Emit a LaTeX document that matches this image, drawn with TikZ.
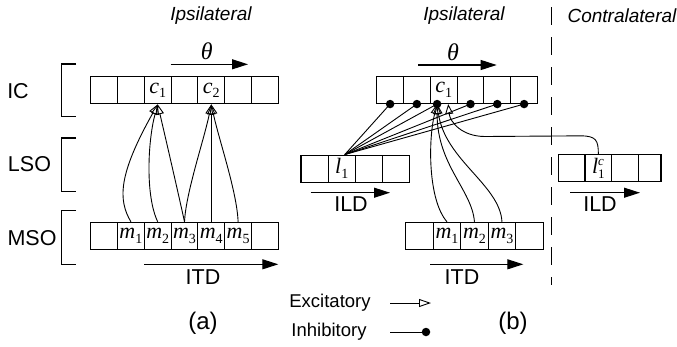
\documentclass[tikz,border=0pt]{standalone}
\usepackage{fontspec}
\setmainfont{Liberation Sans}
\newfontfamily\tnr{Liberation Serif}
\usetikzlibrary{arrows.meta,calc}
\newcommand\mv[2]{{\tnr\fontsize{22}{22}\selectfont\itshape #1}\raisebox{-4.5pt}{\tnr\fontsize{14}{14}\selectfont #2}}
\newcommand\mvc[3]{{\tnr\fontsize{22}{22}\selectfont\itshape #1}\rlap{\raisebox{8.5pt}{\tnr\fontsize{13}{13}\selectfont\itshape #2}}\raisebox{-5pt}{\tnr\fontsize{13}{13}\selectfont #3}}
\begin{document}
\begin{tikzpicture}[x=1pt,y=-1pt,
  cell/.style={draw,line width=1.1pt,minimum width=26.8pt,minimum height=27pt,inner sep=0pt},
  lab/.style={font=\fontsize{21.5}{24}\selectfont},
  side/.style={font=\fontsize{19}{22}\selectfont\itshape},
  leg/.style={font=\fontsize{18.5}{22}\selectfont},
  pan/.style={font=\fontsize{24}{28}\selectfont},
  ttl/.style={font=\tnr\fontsize{24}{24}\selectfont\itshape},
  axis/.style={line width=1.1pt,-{Triangle[length=16pt,width=10pt]}},
  exc/.style={line width=0.9pt,-{Triangle[open,length=10pt,width=8pt]}},
  inh/.style={line width=0.9pt},
  dot/.style={circle,fill,inner sep=0pt,minimum size=8.5pt},
  brk/.style={line width=1.1pt},
]
\useasboundingbox (0,0) rectangle (677,346);

% ---------- side titles ----------
\node[side] (ipa) at (211,16) {Ipsilateral};
\node[side] (ipb) at (464,16) {Ipsilateral};
\node[side] (con) at (622,16) {Contralateral};
\draw[line width=1.1pt,dash pattern=on 18pt off 12pt] (551.7,7) -- (551.7,285);

% ---------- row labels and brackets ----------
\node[lab] (lic) at (18,91) {IC};
\node[lab] (llso) at (29.5,164) {LSO};
\node[lab] (lmso) at (32,238) {MSO};
\draw[brk] (76,64) -- (61.7,64) -- (61.7,116.7) -- (76,116.7);
\draw[brk] (76,138) -- (61.7,138) -- (61.7,191.7) -- (76,191.7);
\draw[brk] (76,210.7) -- (61.7,210.7) -- (61.7,264.3) -- (76,264.3);

% ---------- panel (a) ----------
\foreach \i/\t in {1/{},2/{},3/{\mv{c}{1}},4/{},5/{\mv{c}{2}},6/{},7/{}}
  \node[cell] (ac\i) at ({90.7+26.8*(\i-0.5)},90.35) {\t};
\foreach \i/\t in {1/{},2/{\mv{m}{1}},3/{\mv{m}{2}},4/{\mv{m}{3}},5/{\mv{m}{4}},6/{\mv{m}{5}},7/{}}
  \node[cell] (am\i) at ({90.7+26.8*(\i-0.5)},235.8) {\t};

\coordinate (tha0) at (170.7,64.3);
\coordinate (tha1) at (248,64.3);
\draw[axis] (tha0) -- (tha1);
\node[ttl] (tha) at (206.7,51) {θ};

\coordinate (itda0) at (144,264.3);
\coordinate (itda1) at (278.3,264.3);
\draw[axis] (itda0) -- (itda1);
\node[lab] (itda) at (203,277) {ITD};

\draw[exc] (am2.north) .. controls (118,200) and (118,175) .. (ac3.south);
\draw[exc] (am3.north) .. controls (145,195) and (148,140) .. (ac3.south);
\draw[exc] (am4.north) .. controls (178,192) and (166,140) .. (ac3.south);
\draw[exc] (am4.north) .. controls (186,192) and (204,140) .. (ac5.south);
\draw[exc] (am5.north) -- (ac5.south);
\draw[exc] (am6.north) .. controls (237,192) and (219,140) .. (ac5.south);

\node[pan] (pa) at (203,323) {(a)};

% ---------- panel (b) ----------
\foreach \i/\t in {1/{},2/{},3/{\mv{c}{1}},4/{},5/{},6/{}}
  \node[cell] (bc\i) at ({376.7+26.8*(\i-0.5)},90) {\t};
\foreach \i/\t in {1/{},2/{\mv{l}{1}},3/{},4/{}}
  \node[cell,minimum width=27.2pt] (bl\i) at ({301+27.2*(\i-0.5)},168.6) {\t};
\foreach \i/\t in {1/{},2/{\mv{m}{1}},3/{\mv{m}{2}},4/{\mv{m}{3}},5/{}}
  \node[cell,minimum width=27.5pt] (bm\i) at ({405.7+27.5*(\i-0.5)},235.8) {\t};
\foreach \i/\x/\w/\t in {1/571.65/26.7/{},2/598.35/26.7/{\mvc{l}{c}{1}},3/625.05/26.7/{},4/649.65/22.7/{}}
  \node[cell,minimum width=\w pt] (bcl\i) at (\x,168.4) {\t};

\coordinate (thb0) at (418.3,65);
\coordinate (thb1) at (496.7,65);
\draw[axis] (thb0) -- (thb1);
\node[ttl] (thb) at (453,52) {θ};

\coordinate (ilda0) at (310.7,192.7);
\coordinate (ilda1) at (390,192.7);
\draw[axis] (ilda0) -- (ilda1);
\node[lab] (ilda) at (351,204) {ILD};

\coordinate (ildc0) at (570,192.7);
\coordinate (ildc1) at (640,192.7);
\draw[axis] (ildc0) -- (ildc1);
\node[lab] (ildc) at (600,204) {ILD};

\coordinate (itdb0) at (430,264.3);
\coordinate (itdb1) at (523.3,264.3);
\draw[axis] (itdb0) -- (itdb1);
\node[lab] (itdb) at (462,277) {ITD};

% inhibitory dots and lines
\coordinate (et) at ($(bc3.south)+(-6.6,0)$);
\coordinate (ct) at ($(bc3.south)+(4.5,0)$);
\node[dot] (d1) at (bc1.south) {};
\node[dot] (d2) at (bc2.south) {};
\node[dot] (d3) at (et) {};
\node[dot] (d4) at (bc4.south) {};
\node[dot] (d5) at (bc5.south) {};
\node[dot] (d6) at (bc6.south) {};
\coordinate (lf) at ($(bl2.north)+(3,0)$);
\foreach \k in {1,...,6} \draw[inh] (lf) -- (d\k.center);

% excitatory
\draw[exc] (bm2.north) .. controls (428,200) and (428,140) .. (et);
\draw[exc] (bm3.north) .. controls (472,190) and (437,165) .. (et);
\draw[exc] (bm4.north) .. controls (500,185) and (445,160) .. (et);
\draw[exc] (bcl2.north) .. controls +(0,-14) and +(16,0) .. ++(-18,-18.5) -- (485,136.5) .. controls (462,136.5) and (450,122) .. (ct);

\node[pan] (pb) at (513,323) {(b)};

% ---------- legend ----------
\node[leg] (lex) at (330,303) {Excitatory};
\node[leg] (lin) at (329,332) {Inhibitory};
\coordinate (lx0) at (390,303);
\coordinate (lx1) at (431,303);
\draw[line width=0.9pt,-{Triangle[open,length=12pt,width=8pt]}] (lx0) -- (lx1);
\coordinate (li0) at (390,332);
\node[dot] (li1) at (426,332) {};
\draw[inh] (li0) -- (li1.center);
\end{tikzpicture}
\end{document}
